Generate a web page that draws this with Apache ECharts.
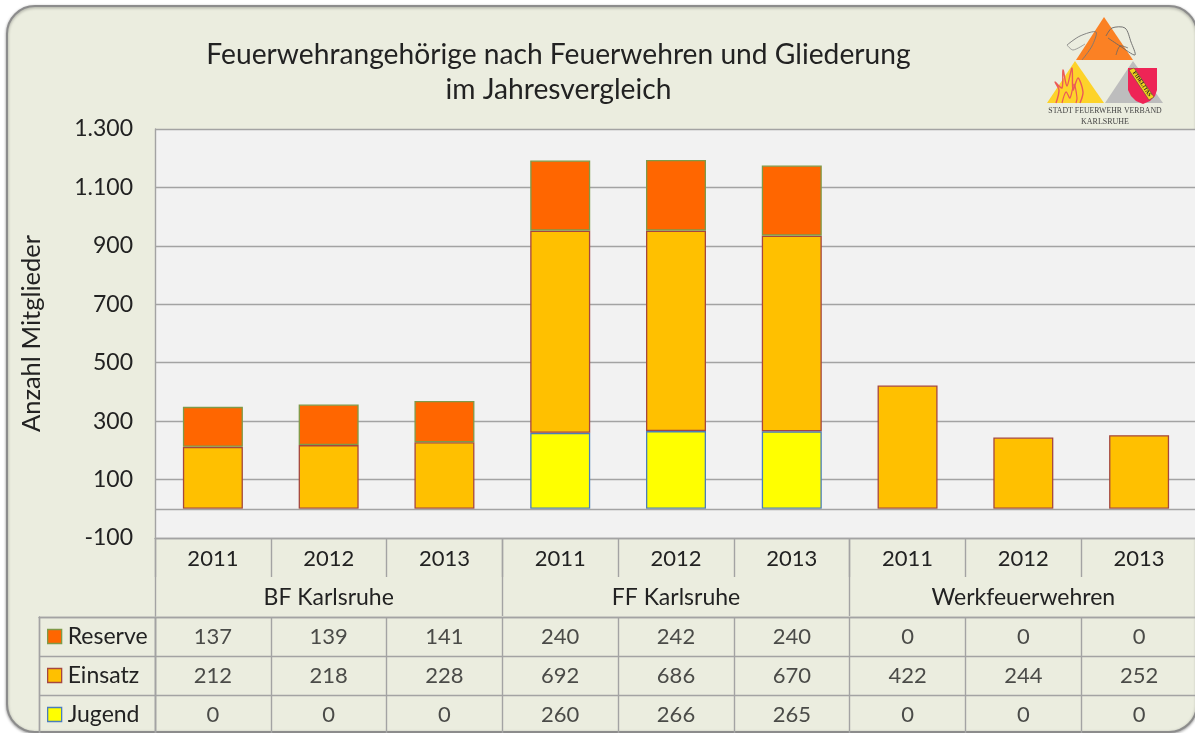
<!DOCTYPE html>
<html><head><meta charset="utf-8">
<style>html,body{margin:0;padding:0;background:#fff;overflow:hidden}#c{width:1195px;height:733px}</style>
<script src="https://cdn.jsdelivr.net/npm/echarts@6/dist/echarts.min.js"></script>
</head><body><div id="c"></div>
<script>
const years = ['2011','2012','2013','2011','2012','2013','2011','2012','2013'];
const groups = ['BF Karlsruhe','FF Karlsruhe','Werkfeuerwehren'];
const reserve = [137,139,141,240,242,240,0,0,0];
const einsatz = [212,218,228,692,686,670,422,244,252];
const jugend  = [0,0,0,260,266,265,0,0,0];
const rowNames = ['Reserve','Einsatz','Jugend'];
const titleText = 'Feuerwehrangehörige nach Feuerwehren und Gliederung\nim Jahresvergleich';
const yName = 'Anzahl Mitglieder';

const FONT = 'Lato';
const TXT = '#222222';
const LINE = '#a3a3a3';
const COL = {Reserve:'#ff6600', Einsatz:'#ffc000', Jugend:'#ffff00'};
const EDGE = {Reserve:'#7f9a48', Einsatz:'#a5473f', Jugend:'#4a7ebb'};
const nz = a => a.map(v => v === 0 ? '-' : v);
const bar = (name, data) => ({
  name, type:'bar', stack:'s', data:nz(data), barWidth:60,
  itemStyle:{color:COL[name], borderColor:EDGE[name], borderWidth:1.3},
  emphasis:{disabled:true}
});
const tableRows = [reserve, einsatz, jugend];
const tableData = [];
tableRows.forEach((r,ri)=>r.forEach((v,ci)=>tableData.push([ci,ri,v])));
const hide = {axisLabel:{show:false},axisTick:{show:false}};
const ls = {lineStyle:{color:LINE,width:1.4}};

const triangle = (pts,fill)=>({type:'polygon',shape:{points:pts},style:{fill}});
const stroke = (pts,c,w)=>({type:'polyline',shape:{points:pts,smooth:0.3},style:{stroke:c,fill:'none',lineWidth:w}});
const logo = [
  triangle([[1104,17],[1133,60],[1076,60]],'#fb8124'),
  triangle([[1075,61],[1104,103],[1047,103]],'#fdd32a'),
  triangle([[1133,61],[1163,103],[1105,103]],'#bdbdbd'),
  triangle([[1128,68],[1157,68],[1157,90],[1155,96],[1150,101],[1143,104],[1136,101],[1131,96],[1128,90]],'#ee2456'),
  {type:'polygon',shape:{points:[[1129,70],[1134,68],[1154,97],[1149,100]]},style:{fill:'#f5d31d',stroke:'#444',lineWidth:0.5}},
  {type:'text',x:1142,y:84,rotation:-0.97,style:{x:0,y:0,text:'FIDELITAS',align:'center',verticalAlign:'middle',font:'bold 5.5px "Liberation Serif"',fill:'#222'}},
  stroke([[1056,103],[1059,90],[1055,82],[1062,88],[1063,70],[1067,86],[1072,68],[1073,90],[1078,78],[1083,92],[1080,103]],'#ec5a57',1.4),
  stroke([[1062,103],[1066,92],[1070,98],[1074,84],[1077,98],[1076,103]],'#ec5a57',1.2),
  stroke([[1067,45],[1080,36],[1096,32],[1092,46],[1082,60]],'#777',0.9),
  stroke([[1067,45],[1073,50],[1085,44]],'#888',0.8),
  stroke([[1106,36],[1112,28],[1125,28],[1131,42],[1135,55],[1120,46],[1108,38]],'#666',0.9),
  stroke([[1116,55],[1120,46],[1128,48]],'#666',0.8),
  {type:'text',style:{x:1105,y:111,text:'STADT FEUERWEHR VERBAND',align:'center',verticalAlign:'middle',font:'7.8px "Liberation Serif"',fill:'#444'}},
  {type:'text',style:{x:1105,y:122,text:'KARLSRUHE',align:'center',verticalAlign:'middle',font:'8px "Liberation Serif"',fill:'#444'}}
];

const chart = echarts.init(document.getElementById('c'),null,{renderer:'canvas'});
chart.setOption({
  animation:false,
  backgroundColor:'#ffffff',
  textStyle:{fontFamily:FONT,color:TXT},
  title:{text:titleText,left:553.5,top:32,textAlign:'center',
    textStyle:{fontFamily:FONT,fontWeight:'normal',fontSize:28.2,lineHeight:35,color:TXT}},
  graphic:[
    {type:'rect',z:-10,zlevel:0,shape:{x:7,y:6,width:1190,height:726,r:28},
     style:{fill:'#ebeddf',stroke:'#8c8c8c',lineWidth:2,shadowBlur:3,shadowColor:'rgba(0,0,0,0.35)',shadowOffsetY:1}},
    ...logo
  ],
  legend:{data:rowNames.map(n=>({name:n,itemStyle:{color:COL[n],borderColor:EDGE[n],borderWidth:1.3}})),
    orient:'vertical',left:47,top:625,padding:0,itemWidth:14,itemHeight:14,itemGap:16,
    selectedMode:false,icon:'rect',
    textStyle:{fontFamily:FONT,fontSize:23,color:TXT,lineHeight:22,padding:[0,0,0,1]}},
  grid:[
    {left:155,top:129,width:1042,height:409,show:true,backgroundColor:'#f2f2f2',borderWidth:0,outerBoundsMode:'none'},
    {left:155,top:617,width:1042,height:117,show:false,outerBoundsMode:'none'},
    {left:39,top:617,width:116,height:117,show:false,outerBoundsMode:'none'}
  ],
  xAxis:[
    {type:'category',gridIndex:0,data:years,position:'bottom',
      axisLine:{onZero:false,show:true,...ls},
      axisTick:{show:true,length:39,...ls},
      axisLabel:{fontFamily:FONT,fontSize:22,color:TXT,margin:10,interval:0},splitLine:{show:false}},
    {type:'category',gridIndex:0,data:groups,position:'bottom',
      axisLine:{onZero:false,show:false},
      axisTick:{show:true,length:78,...ls},
      axisLabel:{fontFamily:FONT,fontSize:23,color:TXT,margin:48,interval:0},splitLine:{show:false}},
    {type:'category',gridIndex:1,data:years,position:'top',axisLine:{show:true,onZero:false,...ls},...hide,
      splitLine:{show:true,interval:0,...ls}},
    {type:'category',gridIndex:2,data:['Legende'],position:'top',axisLine:{show:true,onZero:false,...ls},...hide,
      splitLine:{show:true,interval:0,...ls}}
  ],
  yAxis:[
    {type:'value',gridIndex:0,min:-100,max:1300,interval:200,
      name:yName,nameLocation:'middle',nameGap:110,nameTextStyle:{fontFamily:FONT,fontSize:25.5,color:TXT},
      axisLine:{show:true,...ls},axisTick:{show:false},
      axisLabel:{fontFamily:FONT,fontSize:23,color:TXT,margin:22,
        formatter:v=>String(v).replace(/\B(?=(\d{3})+$)/,'.')},
      splitLine:{show:true,...ls}},
    {type:'category',gridIndex:1,data:rowNames,inverse:true,axisLine:{show:true,onZero:false,...ls},...hide,
      splitLine:{show:true,interval:0,...ls}},
    {type:'category',gridIndex:2,data:rowNames,inverse:true,axisLine:{show:true,onZero:false,...ls},...hide,
      splitLine:{show:true,interval:0,...ls}}
  ],
  series:[
    {...bar('Jugend',jugend)},
    {...bar('Einsatz',einsatz),
      markLine:{silent:true,symbol:'none',label:{show:false},lineStyle:{color:LINE,width:1.4,type:'solid'},data:[{yAxis:0}]}},
    {...bar('Reserve',reserve)},
    {name:'Tabelle',type:'scatter',xAxisIndex:2,yAxisIndex:1,data:tableData,symbolSize:1,
      itemStyle:{color:'transparent'},silent:true,
      label:{show:true,position:'inside',formatter:p=>String(p.value[2]),fontFamily:FONT,fontSize:22,color:TXT}}
  ]
});
</script></body></html>
